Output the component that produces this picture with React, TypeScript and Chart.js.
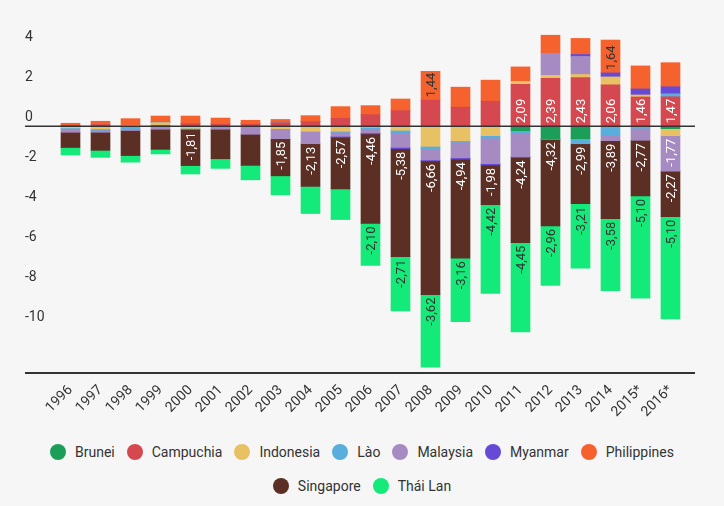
import React, { useEffect, useRef } from 'react';
import { Chart, registerables } from 'chart.js';

Chart.register(...registerables);

const categories = ['1996', '1997', '1998', '1999', '2000', '2001', '2002', '2003', '2004', '2005', '2006', '2007', '2008', '2009', '2010', '2011', '2012', '2013', '2014', '2015*', '2016*'];

const brunei = [0, 0, 0, 0, 0, 0, 0, 0, 0, 0, 0, 0, 0, 0, 0, -0.22, -0.62, -0.62, 0, 0, -0.12];
const campuchia = [0.03, 0.06, 0, 0.05, 0.13, 0.13, 0.13, 0.16, 0.23, 0.4, 0.58, 0.78, 1.3, 0.95, 1.25, 2.09, 2.39, 2.43, 2.06, 1.46, 1.47];
const indonesia = [-0.08, -0.13, 0.05, 0.13, -0.1, 0, 0, -0.12, -0.25, -0.25, -0.05, -0.2, -1.0, -0.72, -0.47, 0.15, 0.15, 0.15, 0.4, 0.1, -0.35];
const lao = [-0.05, -0.07, -0.13, 0, -0.05, 0, 0, 0, 0, -0.05, -0.1, -0.13, -0.13, -0.07, -0.12, -0.12, -0.03, -0.25, -0.42, -0.1, 0.15];
const malaysia = [-0.17, -0.1, -0.08, -0.15, 0, -0.15, -0.4, -0.5, -0.62, -0.2, -0.18, -0.72, -0.55, -0.78, -1.27, -1.17, 1.1, 0.9, -0.3, -0.6, -1.77];
const myanmar = [0, 0, 0, 0, 0, 0, 0, 0, 0, -0.05, -0.05, -0.07, -0.05, -0.07, -0.07, -0.05, 0, 0.1, 0.2, 0.3, 0.35];
const philippines = [0.12, 0.19, 0.33, 0.33, 0.38, 0.28, 0.17, 0.18, 0.3, 0.58, 0.45, 0.58, 1.44, 1.0, 1.05, 0.72, 0.9, 0.8, 1.64, 1.15, 1.2];
const singapore = [-0.76, -0.9, -1.25, -1.0, -1.81, -1.47, -1.55, -1.85, -2.13, -2.57, -4.46, -5.38, -6.66, -4.94, -1.98, -4.24, -4.32, -2.99, -3.89, -2.77, -2.27];
const thaiLan = [-0.37, -0.35, -0.33, -0.23, -0.42, -0.48, -0.72, -0.95, -1.35, -1.53, -2.10, -2.71, -3.62, -3.16, -4.42, -4.45, -2.96, -3.21, -3.58, -5.10, -5.10];

const yTickValues = [-10, -8, -6, -4, -2, 0, 2, 4];

const seriesNames = ['Brunei', 'Campuchia', 'Indonesia', 'Lào', 'Malaysia', 'Myanmar', 'Philippines', 'Singapore', 'Thái Lan'];
const seriesValues = [brunei, campuchia, indonesia, lao, malaysia, myanmar, philippines, singapore, thaiLan];
const seriesColors = ['#1a9e58', '#d6484f', '#e8c164', '#5aaedc', '#a68bc3', '#6649d6', '#f5622e', '#5b2f24', '#14ea79'];
const labelColors = ['#fff', '#fff', '#333', '#333', '#fff', '#fff', '#333', '#fff', '#333'];

const BG = '#f6f6f6';

const fmt = (v: number) => v.toFixed(2).replace('.', ',');

const overlayPlugin = {
  id: 'overlay',
  afterDatasetsDraw(chart: any) {
    const ctx = chart.ctx;
    const area = chart.chartArea;
    const yScale = chart.scales.y;
    ctx.save();
    const y0 = yScale.getPixelForValue(0);
    ctx.strokeStyle = '#333';
    ctx.lineWidth = 1.5;
    ctx.beginPath();
    ctx.moveTo(area.left, y0);
    ctx.lineTo(area.right, y0);
    ctx.stroke();
    ctx.lineWidth = 2;
    ctx.beginPath();
    ctx.moveTo(area.left, area.bottom - 1);
    ctx.lineTo(area.right, area.bottom - 1);
    ctx.stroke();
    ctx.font = '13px Roboto';
    chart.data.datasets.forEach((ds: any, di: number) => {
      const meta = chart.getDatasetMeta(di);
      meta.data.forEach((el: any, i: number) => {
        const v = seriesValues[di][i];
        if (!v) return;
        const { x, y, base } = el.getProps(['x', 'y', 'base'], true);
        const h = Math.abs(base - y);
        const text = fmt(v);
        const w = ctx.measureText(text).width;
        if (w + 4 > h) return;
        ctx.save();
        ctx.translate(x, v > 0 ? base - 3 : base + 3);
        ctx.rotate(-Math.PI / 2);
        ctx.textAlign = v > 0 ? 'left' : 'right';
        ctx.textBaseline = 'middle';
        ctx.fillStyle = labelColors[di];
        ctx.fillText(text, 0, 1);
        ctx.restore();
      });
    });
    ctx.restore();
  },
};

export default function App() {
  const canvasRef = useRef<HTMLCanvasElement | null>(null);

  useEffect(() => {
    document.body.style.margin = '0';
    document.body.style.background = BG;
    Chart.defaults.font.family = 'Roboto';
    const canvas = canvasRef.current;
    if (!canvas) return;
    const chart = new Chart(canvas, {
      type: 'bar',
      data: {
        datasets: seriesNames.map((name, di) => ({
          label: name,
          data: seriesValues[di].map((v, i) => ({ x: i, y: v })),
          backgroundColor: seriesColors[di],
          borderWidth: 0,
          barThickness: 19,
        })),
      },
      options: {
        responsive: false,
        animation: false,
        devicePixelRatio: 1,
        layout: { padding: { left: 25, right: 29, top: 34, bottom: 6 } },
        plugins: { legend: { display: false }, tooltip: { enabled: false } },
        scales: {
          x: {
            type: 'linear',
            stacked: true,
            offset: false,
            min: -1.5167,
            max: 20.8167,
            grid: { display: false, drawTicks: false },
            border: { display: false },
            afterBuildTicks: (s: any) => {
              s.ticks = categories.map((_, i) => ({ value: i }));
            },
            afterFit: (s: any) => {
              s.height = 50;
            },
            ticks: {
              autoSkip: false,
              minRotation: 45,
              maxRotation: 45,
              padding: 8,
              color: '#333',
              font: { size: 14 },
              callback: (v: any) => categories[v] ?? '',
            },
          },
          y: {
            stacked: true,
            min: -12.35,
            max: 4.6,
            grid: { display: false, drawTicks: false },
            border: { display: false },
            afterBuildTicks: (s: any) => {
              s.ticks = yTickValues.map((v) => ({ value: v }));
            },
            afterFit: (s: any) => {
              s.width = 0;
            },
            ticks: {
              mirror: true,
              padding: 0,
              labelOffset: -9,
              color: '#333',
              font: { size: 14 },
              callback: (v: any) => String(v),
            },
          },
        },
      } as any,
      plugins: [overlayPlugin],
    });
    return () => chart.destroy();
  }, []);

  return (
    <div style={{ position: 'relative', width: 724, height: 506, background: BG, overflow: 'hidden' }}>
      <canvas ref={canvasRef} width={724} height={430} style={{ display: 'block' }} />
      <div
        style={{
          position: 'absolute',
          top: 442,
          left: 0,
          width: 724,
          boxSizing: 'border-box',
          padding: '0 40px',
          display: 'flex',
          flexWrap: 'wrap',
          justifyContent: 'center',
          rowGap: 14,
          columnGap: 12,
          fontFamily: 'Roboto',
          fontSize: 14,
          color: '#333',
        }}
      >
        {seriesNames.map((name, i) => (
          <div key={name} style={{ display: 'flex', alignItems: 'center', height: 20 }}>
            <span
              style={{
                display: 'inline-block',
                width: 16,
                height: 16,
                borderRadius: '50%',
                background: seriesColors[i],
                marginRight: 9,
              }}
            />
            <span>{name}</span>
          </div>
        ))}
      </div>
    </div>
  );
}
